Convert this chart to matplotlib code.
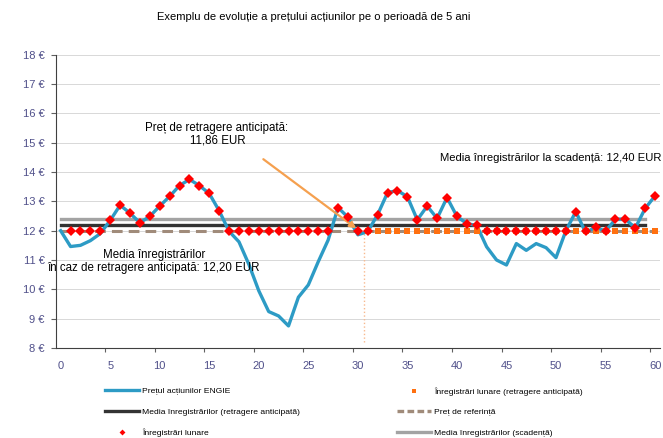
import matplotlib
matplotlib.use("Agg")
import matplotlib.pyplot as plt
from matplotlib.lines import Line2D

plt.rcParams['font.family'] = ['Liberation Sans', 'DejaVu Sans']

# Monthly share price over 5 years (month 0..60)
months = list(range(61))
price = [12.00, 11.46, 11.50, 11.66, 11.90, 12.35, 12.87, 12.60, 12.27, 12.49,
         12.84, 13.17, 13.54, 13.75, 13.54, 13.27, 12.68, 11.98, 11.62, 10.85,
         9.95, 9.24, 9.09, 8.75, 9.73, 10.15, 10.94, 11.68, 12.79, 12.46,
         11.86, 11.97, 12.55, 13.30, 13.37, 13.16, 12.37, 12.84, 12.42, 13.13,
         12.49, 12.24, 12.18, 11.45, 11.00, 10.83, 11.56, 11.33, 11.56, 11.42,
         11.08, 12.00, 12.65, 11.93, 12.13, 11.98, 12.39, 12.40, 12.09, 12.76,
         13.19]

# Monthly recordings (month 1..60)
rec_months = list(range(1, 61))
recordings = [12.00, 12.00, 12.00, 12.00, 12.35, 12.87, 12.60, 12.27, 12.49, 12.84,
              13.17, 13.54, 13.75, 13.54, 13.27, 12.68, 12.00, 12.00, 12.00, 12.00,
              12.00, 12.00, 12.00, 12.00, 12.00, 12.00, 12.00, 12.79, 12.46, 12.00,
              12.00, 12.55, 13.30, 13.37, 13.16, 12.37, 12.84, 12.42, 13.13, 12.49,
              12.24, 12.18, 12.00, 12.00, 12.00, 12.00, 12.00, 12.00, 12.00, 12.00,
              12.00, 12.65, 12.00, 12.13, 12.00, 12.39, 12.40, 12.09, 12.76, 13.19]

# Monthly recordings after early redemption (month 31..60)
early_months = list(range(31, 61))
early_recordings = [12.00] * 30

# Reference lines
ref_price = 12.00
ref_span = [0, 60]
avg_early = 12.20
avg_maturity = 12.40
avg_span = [0, 59.0]
early_exit_month = 30.6
early_exit_price = 11.86

yticks = list(range(8, 19))
ytick_labels = ["%d €" % v for v in yticks]
xticks = list(range(0, 61, 5))


def eur(v):
    return ("%.2f" % v).replace('.', ',') + " EUR"


fig = plt.figure(figsize=(6.63, 4.38), dpi=100)
ax = fig.add_axes([0.084, 0.2057, 0.9115, 0.669])

blue = '#2d9bc5'
tick_color = '#50508a'

ax.set_ylim(8, 18)
ax.set_xlim(-0.5, 60.5)
ax.set_yticks(yticks)
ax.set_yticklabels(ytick_labels)
ax.set_xticks(xticks)
ax.set_xticks([x - 0.5 for x in xticks[1:]], minor=True)
ax.tick_params(axis='y', length=3.5, width=0.8, color='#606060', pad=4.5,
               labelsize=8, labelcolor=tick_color)
ax.tick_params(axis='x', which='major', length=0, pad=9.5,
               labelsize=8, labelcolor=tick_color)
ax.tick_params(axis='x', which='minor', length=3, width=0.8, color='#606060')
ax.grid(axis='y', color='#d2d2d2', lw=0.6)
ax.set_axisbelow(True)
for s in ['top', 'right']:
    ax.spines[s].set_visible(False)
for s in ['left', 'bottom']:
    ax.spines[s].set_color('#404040')
    ax.spines[s].set_linewidth(0.8)

# horizontal reference lines
ax.plot(avg_span, [avg_maturity] * 2, color='#a3a3a3', lw=2.4, zorder=2)
ax.plot(avg_span, [avg_early] * 2, color='#333333', lw=2.4, zorder=2)
ax.plot(ref_span, [ref_price] * 2, color='#a08b7a', lw=2.2, ls=(0, (3.5, 2)), zorder=2)

# price line
ax.plot(months, price, color=blue, lw=2.4, zorder=3)

# early redemption marker line and arrow
ax.vlines(early_exit_month, 8.2, ref_price, colors='#f8b98e', linestyles=':', lw=1, zorder=2)
ax.annotate('', xy=(29.83, 12.08), xytext=(20.46, 14.44),
            arrowprops=dict(arrowstyle='-|>', color='#f5a04f', lw=1.6,
                            mutation_scale=9, shrinkA=0, shrinkB=0), zorder=4)

# recordings
ax.plot(early_months, early_recordings, 's', color='#ff7010', ms=4.3, mew=0, zorder=4)
ax.plot(rec_months, recordings, 'D', color='#ff0000', ms=5, mew=0, zorder=5)

# annotations
fs = 8.3
ax.text(15.7, 15.5, "Preț de retragere anticipată:", ha='center', va='center', fontsize=fs)
ax.text(15.9, 15.09, eur(early_exit_price), ha='center', va='center', fontsize=fs)
ax.text(9.4, 11.17, "Media înregistrărilor", ha='center', va='center', fontsize=fs)
ax.text(9.4, 10.72, "în caz de retragere anticipată: " + eur(avg_early),
        ha='center', va='center', fontsize=fs)
# keep the right label just inside the figure
ax.text(60.6, 14.49, "Media înregistrărilor la scadență: " + eur(avg_maturity),
        ha='right', va='center', fontsize=8.1, clip_on=False)

fig.text(0.4736, 0.961, "Exemplu de evoluție a prețului acțiunilor pe o perioadă de 5 ani",
         ha='center', va='center', fontsize=8)

# legend, two columns
h1 = [Line2D([], [], color=blue, lw=2.4),
      Line2D([], [], color='#333333', lw=2.4),
      Line2D([], [], ls='', marker='D', color='#ff0000', ms=3, mew=0)]
l1 = ["Prețul acțiunilor ENGIE",
      "Media înregistrărilor (retragere anticipată)",
      "Înregistrări lunare"]
h2 = [Line2D([], [], ls='', marker='s', color='#ff7010', ms=3.5, mew=0),
      Line2D([], [], color='#a08b7a', lw=2.4, ls=(0, (2, 1))),
      Line2D([], [], color='#a3a3a3', lw=2.4)]
l2 = ["Înregistrări lunare (retragere anticipată)",
      "Preț de referință",
      "Media înregistrărilor (scadență)"]
for h, l, x0 in [(h1, l1, 105), (h2, l2, 397)]:
    fig.legend(h, l, loc='upper left', bbox_to_anchor=(x0 / 663, 1 - 387 / 438),
               frameon=False, fontsize=6.1, handlelength=4.0, handletextpad=0.35,
               borderpad=0, borderaxespad=0, labelspacing=1.5)

fig.savefig("out.png", dpi=100)
